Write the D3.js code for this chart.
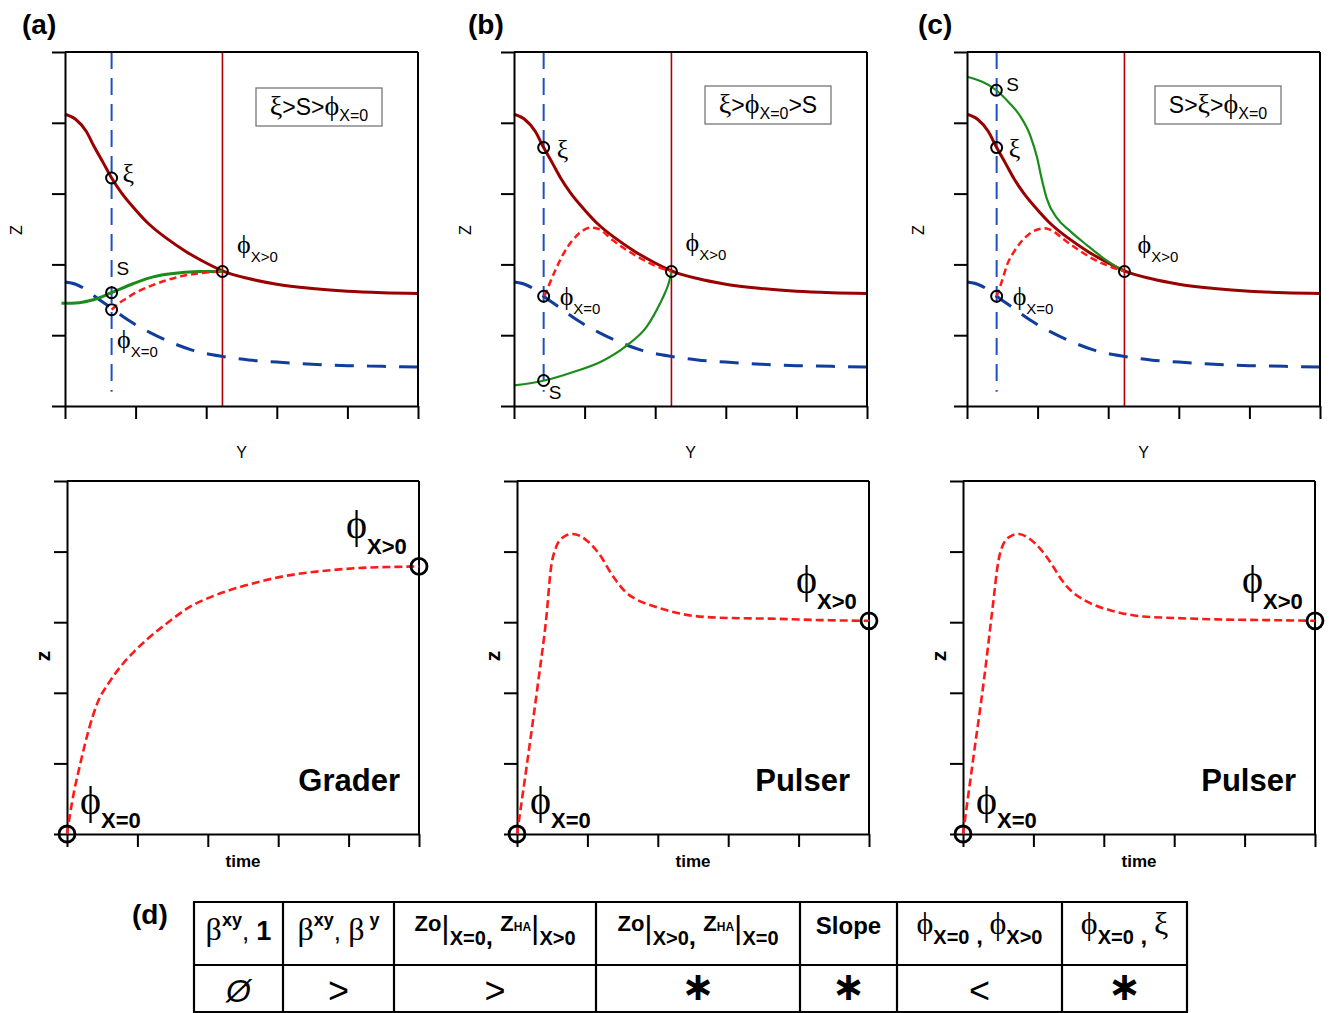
<!DOCTYPE html>
<html><head><meta charset="utf-8">
<script src="https://cdn.jsdelivr.net/npm/d3@7"></script>
<style>body{margin:0;background:#fff} text{white-space:pre}</style>
</head><body>
<svg id="chart" width="1329" height="1013"></svg>
<script>
// ---------------- DATA ----------------
const tickValues = [0, 1, 2, 3, 4, 5];
const panelLetters = ["(a)", "(b)", "(c)"];
const responseTypes = ["Grader", "Pulser", "Pulser"];

// shared curves in the Y–Z plane
const xiCurve = [[0,4.12],[0.15,4.05],[0.3,3.88],[0.42,3.65],[0.55,3.42],[0.66,3.22],[0.8,3.01],[1.0,2.77],[1.2,2.56],[1.45,2.36],[1.7,2.19],[2.0,2.02],[2.23,1.91],[2.6,1.8],[3.0,1.72],[3.5,1.66],[4.0,1.62],[4.5,1.6],[5.0,1.59]];
const blueCurve = [[0,1.75],[0.15,1.72],[0.3,1.64],[0.42,1.55],[0.66,1.38],[0.9,1.21],[1.2,1.04],[1.5,0.9],[1.8,0.79],[2.23,0.7],[2.6,0.65],[3.0,0.62],[3.5,0.59],[4.0,0.57],[4.5,0.56],[5.0,0.55]];

// S (green) curves per panel
const greenA = [[-0.05,1.45],[0.2,1.46],[0.4,1.5],[0.66,1.6],[0.97,1.73],[1.2,1.81],[1.44,1.86],[1.7,1.89],[1.91,1.9],[2.23,1.9]];
const greenB = [[0,0.29],[0.43,0.36],[0.84,0.48],[1.26,0.64],[1.59,0.85],[1.88,1.12],[1.98,1.28],[2.07,1.45],[2.14,1.6],[2.19,1.73],[2.23,1.89]];
const greenC = [[0,4.65],[0.415,4.46],[0.6,4.28],[0.75,4.1],[0.9,3.81],[0.99,3.52],[1.06,3.2],[1.13,2.93],[1.27,2.66],[1.45,2.48],[1.7,2.27],[1.93,2.09],[2.23,1.9]];

// phi (red dashed) paths per panel
const redA = [[0.66,1.36],[0.75,1.44],[0.87,1.52],[1.0,1.6],[1.2,1.69],[1.45,1.78],[1.68,1.84],[1.95,1.88],[2.23,1.9]];
const redB = [[0.43,1.55],[0.5,1.72],[0.6,1.95],[0.7,2.15],[0.82,2.33],[0.95,2.46],[1.08,2.52],[1.2,2.5],[1.4,2.34],[1.6,2.2],[1.8,2.08],[2.0,1.98],[2.23,1.9]];
const redC = [[0.42,1.55],[0.5,1.78],[0.57,2.0],[0.66,2.17],[0.75,2.3],[0.87,2.42],[0.99,2.49],[1.1,2.51],[1.2,2.48],[1.4,2.33],[1.6,2.19],[1.8,2.07],[2.0,1.98],[2.23,1.9]];

// section positions (vertical lines) per panel
const xZero = [0.66, 0.42, 0.42];
const xPos = [2.23, 2.23, 2.23];

// marked points per panel [label, subscript, x, y]
const marksA = [["ξ","",0.66,3.22],["S","",0.66,1.6],["ϕ","X=0",0.66,1.36],["ϕ","X>0",2.23,1.9]];
const marksB = [["ξ","",0.42,3.65],["ϕ","X=0",0.42,1.55],["S","",0.42,0.36],["ϕ","X>0",2.23,1.9]];
const marksC = [["S","",0.415,4.46],["ξ","",0.42,3.65],["ϕ","X=0",0.42,1.55],["ϕ","X>0",2.23,1.9]];

// ordering boxes
const orderA = [["ξ","g"],[">S>","s"],["ϕ","g"],["X=0","sub"]];
const orderB = [["ξ","g"],[">","s"],["ϕ","g"],["X=0","sub"],[">S","s"]];
const orderC = [["S>","s"],["ξ","g"],[">","s"],["ϕ","g"],["X=0","sub"]];

// time evolution of phi
const timeA = [[0,0],[0.07,0.44],[0.19,1.0],[0.31,1.48],[0.43,1.85],[0.6,2.15],[0.76,2.37],[0.95,2.58],[1.13,2.75],[1.4,2.97],[1.75,3.22],[2.1,3.38],[2.46,3.5],[2.8,3.59],[3.07,3.65],[3.4,3.7],[3.78,3.74],[4.2,3.77],[4.49,3.78],[5,3.79]];
const timeB = [[0,0],[0.15,1.05],[0.3,2.15],[0.42,3.1],[0.48,3.75],[0.55,4.05],[0.65,4.2],[0.78,4.25],[0.9,4.22],[1.0,4.15],[1.1,4.05],[1.2,3.92],[1.3,3.75],[1.4,3.6],[1.55,3.42],[1.7,3.32],[1.9,3.24],[2.2,3.15],[2.5,3.09],[3.0,3.06],[3.6,3.05],[4.3,3.03],[5,3.02]];
const timeC = [[0,0],[0.15,1.1],[0.3,2.2],[0.42,3.2],[0.5,3.85],[0.57,4.1],[0.68,4.22],[0.79,4.25],[0.92,4.2],[1.05,4.09],[1.17,3.95],[1.28,3.79],[1.4,3.6],[1.52,3.46],[1.71,3.32],[1.9,3.23],[2.09,3.17],[2.56,3.08],[3.0,3.06],[3.6,3.04],[4.3,3.03],[5,3.02]];

// table
const tableRow2 = ["Ø", ">", ">", "∗", "∗", "<", "∗"];

// ---------------- LAYOUT ----------------
const SANS = "'Liberation Sans', Arial, Helvetica, sans-serif";
const SERIF = "'Liberation Serif', 'Times New Roman', 'DejaVu Serif', serif";
const C = {xi:"#990000", vred:"#b00000", blue:"#113d9c", vblue:"#1f4fc0", green:"#1b8c1b", red:"#ff1a1a"};

const svg = d3.select("#chart");
svg.append("rect").attr("width",1329).attr("height",1013).attr("fill","#fff");

function rich(g, x, y, segs, anchor) {
  const t = g.append("text").attr("x", x).attr("y", y).attr("text-anchor", anchor || "start").attr("fill", "#000");
  let prev = 0;
  segs.forEach(s => {
    const sh = s.shift || 0;
    const ts = t.append("tspan").attr("dy", sh - prev).attr("font-size", s.size)
      .attr("font-family", s.fam || SANS).attr("font-weight", s.w || "normal").text(s.t);
    if (s.style) ts.attr("font-style", s.style);
    prev = sh;
  });
  return t;
}

function frame(g, x, y) {
  const ax = g.append("g").attr("transform", `translate(0,${y.range()[0]})`)
    .call(d3.axisBottom(x).tickValues(tickValues).tickSize(13).tickSizeOuter(0).tickFormat(""));
  const ay = g.append("g").attr("transform", `translate(${x.range()[0]},0)`)
    .call(d3.axisLeft(y).tickValues(tickValues).tickSize(13).tickSizeOuter(0).tickFormat(""));
  [ax, ay].forEach(a => { a.selectAll("line,path").attr("stroke","#000").attr("stroke-width",2); });
  g.append("line").attr("x1", x(0)).attr("x2", x(5)).attr("y1", y(5)).attr("y2", y(5)).attr("stroke","#000").attr("stroke-width",2);
  g.append("line").attr("x1", x(5)).attr("x2", x(5)).attr("y1", y(5)).attr("y2", y(0)).attr("stroke","#000").attr("stroke-width",2);
}

// ---------------- TOP PANELS ----------------
const topLeft = [65, 514, 967];
const topW = 353, topTop = 52, topBot = 406;
const greens = [greenA, greenB, greenC];
const reds = [redA, redB, redC];
const marks = [marksA, marksB, marksC];
const orders = [orderA, orderB, orderC];
const greenW = [3, 2.2, 2.2];
// label offsets from marker centres (px) [dx, dy baseline]
const markOff = [
  [[11,4],[5,-18],[5.5,38],[14.5,-18.5]],
  [[13,10],[16,9],[5,18],[14,-20]],
  [[10,1],[12,9],[16,9],[13,-18]]
];
const legendBox = [[256,88],[705,86],[1155,86]];
const legendW = 126, legendH = 38;

for (let p = 0; p < 3; p++) {
  const g = svg.append("g");
  const x = d3.scaleLinear().domain([0,5]).range([topLeft[p], topLeft[p] + topW]);
  const y = d3.scaleLinear().domain([0,5]).range([topBot, topTop]);
  const line = d3.line().x(d => x(d[0])).y(d => y(d[1])).curve(d3.curveMonotoneX);

  // vertical sections
  g.append("line").attr("x1", x(xZero[p])).attr("x2", x(xZero[p])).attr("y1", y(5)).attr("y2", y(0.2))
    .attr("stroke", C.vblue).attr("stroke-width", 2).attr("stroke-dasharray", "17,9");
  g.append("line").attr("x1", x(xPos[p])).attr("x2", x(xPos[p])).attr("y1", y(5)).attr("y2", y(0))
    .attr("stroke", C.vred).attr("stroke-width", 1.6);

  const bp = g.append("path").datum(blueCurve).attr("d", line).attr("fill","none").attr("stroke", C.blue)
    .attr("stroke-width", 3);
  const L = bp.node().getTotalLength();
  const n = Math.round((L - 19) / 31);
  const period = (L - 19) / n;
  bp.attr("stroke-dasharray", `19,${(period - 19).toFixed(2)}`);
  g.append("path").datum(xiCurve).attr("d", line).attr("fill","none").attr("stroke", C.xi).attr("stroke-width", 3);
  g.append("path").datum(greens[p]).attr("d", line).attr("fill","none").attr("stroke", C.green).attr("stroke-width", greenW[p]);
  g.append("path").datum(reds[p]).attr("d", line).attr("fill","none").attr("stroke", C.red)
    .attr("stroke-width", 2.5).attr("stroke-dasharray", "7,4");

  frame(g, x, y);

  marks[p].forEach((m, i) => {
    const cx = x(m[2]), cy = y(m[3]);
    g.append("circle").attr("cx", cx).attr("cy", cy).attr("r", 5.5).attr("fill","none").attr("stroke","#000").attr("stroke-width",2);
    const [dx, dy] = markOff[p][i];
    if (m[0] === "S") rich(g, cx+dx, cy+dy, [{t:"S", size:19}]);
    else if (m[0] === "ξ") rich(g, cx+dx, cy+dy, [{t:"ξ", size:26, fam:SERIF}]);
    else rich(g, cx+dx, cy+dy, [{t:"ϕ", size:26, fam:SERIF}, {t:m[1], size:15, shift:9}]);
  });

  // ordering legend box
  const [bx, by] = legendBox[p];
  g.append("rect").attr("x", bx).attr("y", by).attr("width", legendW).attr("height", legendH)
    .attr("fill","#fff").attr("stroke","#777").attr("stroke-width",1.3);
  rich(g, bx + legendW/2, by + 27, orders[p].map(o => o[1] === "g" ? {t:o[0], size:28, fam:SERIF}
      : o[1] === "sub" ? {t:o[0], size:16, shift:6} : {t:o[0], size:23}), "middle");

  // axis titles and panel letter
  g.append("text").attr("x", x(2.5)).attr("y", 458).attr("text-anchor","middle").attr("font-family",SANS).attr("font-size",16).text("Y");
  g.append("text").attr("transform", `translate(${topLeft[p]-49},230) rotate(-90)`).attr("text-anchor","middle")
    .attr("dominant-baseline","central").attr("font-family",SANS).attr("font-size",16).text("Z");
  g.append("text").attr("x", [22,468,918][p]).attr("y", 34).attr("font-family",SANS).attr("font-weight","bold").attr("font-size",28).text(panelLetters[p]);
}

// ---------------- BOTTOM PANELS ----------------
const botLeft = [67, 517, 963];
const botW = 352, botTop = 481, botBot = 834;
const times = [timeA, timeB, timeC];
for (let p = 0; p < 3; p++) {
  const g = svg.append("g");
  const x = d3.scaleLinear().domain([0,5]).range([botLeft[p], botLeft[p] + botW]);
  const y = d3.scaleLinear().domain([0,5]).range([botBot, botTop]);
  const line = d3.line().x(d => x(d[0])).y(d => y(d[1])).curve(d3.curveMonotoneX);
  frame(g, x, y);
  const data = times[p];
  g.append("path").datum(data).attr("d", line).attr("fill","none").attr("stroke", C.red)
    .attr("stroke-width", 2.6).attr("stroke-dasharray", "8,4");
  const first = data[0], last = data[data.length-1];
  [first, last].forEach(d => g.append("circle").attr("cx", x(d[0])).attr("cy", y(d[1])).attr("r", 8)
    .attr("fill","none").attr("stroke","#000").attr("stroke-width",2.8));
  rich(g, x(first[0]) + 13, y(first[1]) - 20, [{t:"ϕ", size:40, fam:SERIF}, {t:"X=0", size:22, w:"bold", shift:14}]);
  rich(g, x(last[0]) - 73, y(last[1]) - 28, [{t:"ϕ", size:40, fam:SERIF}, {t:"X>0", size:22, w:"bold", shift:16}]);
  g.append("text").attr("x", x(5) - 19).attr("y", 791).attr("text-anchor","end").attr("font-family",SANS)
    .attr("font-weight","bold").attr("font-size",31).text(responseTypes[p]);
  g.append("text").attr("x", x(2.5)).attr("y", 867).attr("text-anchor","middle").attr("font-family",SANS)
    .attr("font-weight","bold").attr("font-size",17).text("time");
  g.append("text").attr("transform", `translate(${botLeft[p]-25},656) rotate(-90)`).attr("text-anchor","middle")
    .attr("dominant-baseline","central").attr("font-family",SANS).attr("font-weight","bold").attr("font-size",21).text("z");
}

// ---------------- TABLE (d) ----------------
const tg = svg.append("g");
const colX = [194, 283, 394, 596, 800, 897, 1062, 1187];
const rowY = [902, 965, 1012];
tg.append("text").attr("x",132).attr("y",924).attr("font-family",SANS).attr("font-weight","bold").attr("font-size",28).text("(d)");
rowY.forEach(yy => tg.append("line").attr("x1",colX[0]-1).attr("x2",colX[colX.length-1]+1).attr("y1",yy).attr("y2",yy).attr("stroke","#000").attr("stroke-width",2.2));
colX.forEach(xx => tg.append("line").attr("x1",xx).attr("x2",xx).attr("y1",rowY[0]).attr("y2",rowY[2]).attr("stroke","#000").attr("stroke-width",2.2));
const mid = i => (colX[i] + colX[i+1]) / 2;
const hb = 940;
const B = (t, size, shift) => ({t, size, fam:SERIF, shift: shift||0});
const S = (t, size, shift, w) => ({t, size, shift: shift||0, w: w||"bold"});
const headers = [
  [B("β",32), S("xy",18,-14), S(", ",26,0,"normal"), S("1",27)],
  [B("β",32), S("xy",18,-14), S(", ",26,0,"normal"), B("β",32), S(" y",18,-14)],
  [S("Zo",22,-9), S("|",32,-2,"normal"), S("X=0",20,5), S(", ",26,5), S("Z",22,-9), S("HA",12,-9), S("|",32,-2,"normal"), S("X>0",20,5)],
  [S("Zo",22,-9), S("|",32,-2,"normal"), S("X>0",20,5), S(", ",26,5), S("Z",22,-9), S("HA",12,-9), S("|",32,-2,"normal"), S("X=0",20,5)],
  [S("Slope",24,-6)],
  [B("ϕ",32,-6), S("X=0",20,4), S(" , ",24,4), B("ϕ",32,-6), S("X>0",20,4)],
  [B("ϕ",32,-6), S("X=0",20,4), S(" , ",24,4), B("ξ",32,-6)]
];
headers.forEach((h, i) => rich(tg, mid(i), hb, h, "middle"));
tableRow2.forEach((s, i) => {
  const isStar = s === "∗";
  tg.append("text").attr("x", mid(i)).attr("y", isStar ? 1000 : (s === "Ø" ? 1002 : 1003)).attr("text-anchor","middle")
    .attr("font-family", isStar ? "'DejaVu Sans', sans-serif" : SANS).attr("font-weight", isStar ? "bold" : "normal")
    .attr("font-style", s === "Ø" ? "italic" : "normal")
    .attr("font-size", isStar ? 40 : (s === "Ø" ? 32 : 36)).text(s);
});
</script>
</body></html>
